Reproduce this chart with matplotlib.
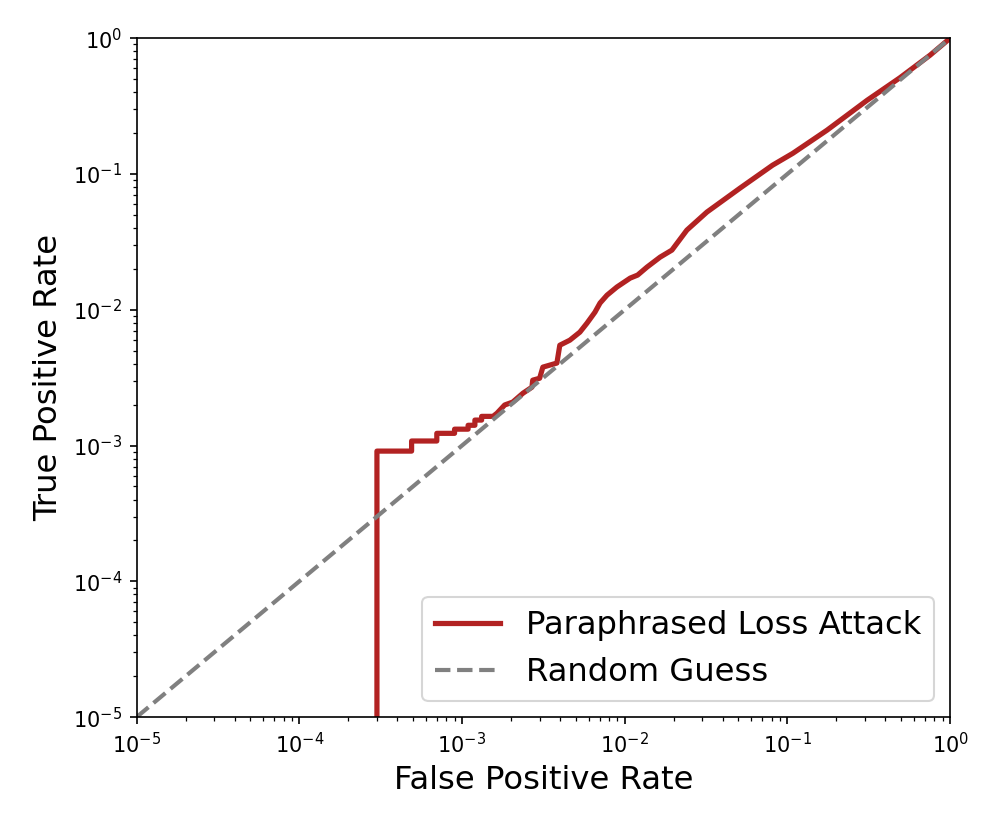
import numpy as np
import matplotlib
matplotlib.use("Agg")
import matplotlib.pyplot as plt

# ROC points (fpr, tpr), log-log
fpr = [3e-4, 3e-4, 4.9e-4, 4.9e-4, 7e-4, 7e-4, 9e-4, 9e-4, 1.09e-3, 1.09e-3,
       1.2e-3, 1.2e-3, 1.32e-3, 1.32e-3, 1.55e-3,
       1.64e-3, 1.83e-3, 2.05e-3, 2.37e-3, 2.69e-3, 2.72e-3, 3.0e-3, 3.14e-3,
       3.83e-3, 3.99e-3, 4.6e-3, 5.3e-3, 5.86e-3, 6.56e-3, 7.05e-3, 7.78e-3,
       8.95e-3, 1.08e-2, 1.2e-2, 1.37e-2, 1.65e-2, 1.95e-2, 2.41e-2, 3.2e-2,
       5.1e-2, 8.1e-2, 0.108, 0.175, 0.309, 0.49, 0.753, 1.0]
tpr = [1e-5, 9.1e-4, 9.1e-4, 1.08e-3, 1.08e-3, 1.23e-3, 1.23e-3, 1.32e-3, 1.32e-3, 1.41e-3,
       1.41e-3, 1.54e-3, 1.54e-3, 1.64e-3, 1.64e-3,
       1.73e-3, 1.99e-3, 2.09e-3, 2.43e-3, 2.69e-3, 3.03e-3, 3.13e-3, 3.78e-3,
       4.05e-3, 5.48e-3, 5.97e-3, 6.84e-3, 7.96e-3, 9.59e-3, 1.12e-2, 1.28e-2,
       1.47e-2, 1.71e-2, 1.8e-2, 2.06e-2, 2.44e-2, 2.75e-2, 3.86e-2, 5.24e-2,
       7.85e-2, 0.116, 0.142, 0.21, 0.349, 0.51, 0.75, 1.0]

guess = [1e-5, 1.0]

fig = plt.figure(figsize=(997/150, 830/150), dpi=150)
ax = fig.add_subplot(111)
fig.subplots_adjust(left=0.137, right=0.953, top=0.954, bottom=0.136)

ax.plot(fpr, tpr, color='firebrick', lw=2.5, label='Paraphrased Loss Attack')
ax.plot(guess, guess, '--', color='gray', lw=2, label='Random Guess')

ax.set_xscale('log')
ax.set_yscale('log')
ax.set_xlim(1e-5, 1)
ax.set_ylim(1e-5, 1)
ax.set_xlabel('False Positive Rate', fontsize=15.5)
ax.set_ylabel('True Positive Rate', fontsize=15.5)
ax.legend(loc='lower right', fontsize=15.5)

fig.savefig('out.png', dpi=150)
